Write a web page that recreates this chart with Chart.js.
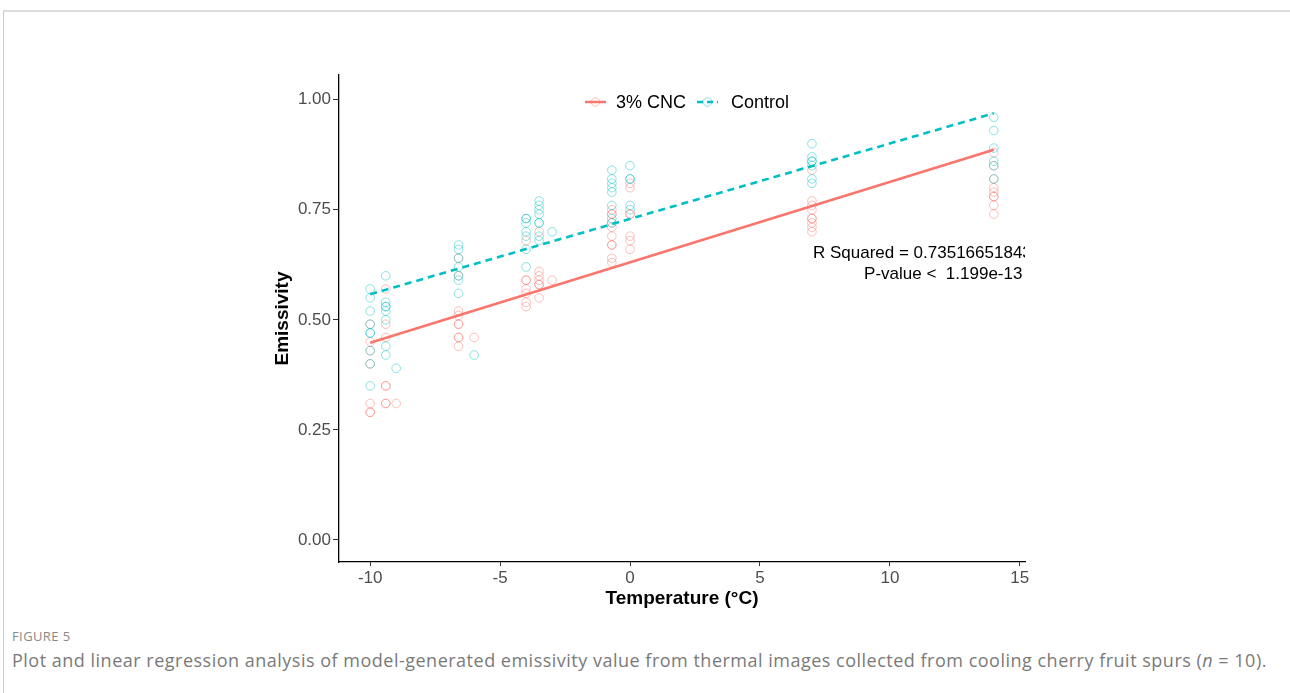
<!DOCTYPE html>
<html>
<head>
<meta charset="utf-8">
<script src="https://cdn.jsdelivr.net/npm/chart.js@4.4.1/dist/chart.umd.min.js"></script>
<style>
  body { margin: 0; background: #fff; width: 1290px; height: 693px; overflow: hidden; position: relative; }
  .frame { position: absolute; left: 3px; top: 10px; width: 1287px; height: 683px; border-top: 2px solid #ddd; border-left: 1px solid #ccc; }
  #wrap { position: absolute; left: 0; top: 0; width: 1290px; height: 620px; }
  .fig { position: absolute; left: 12px; top: 627px; font-family: "Open Sans", sans-serif; font-size: 13px; color: #888; letter-spacing: 0.4px; }
  .cap { position: absolute; left: 12px; top: 648px; font-family: "Open Sans", sans-serif; font-size: 18px; letter-spacing: 0.5px; color: #7a7a7a; white-space: nowrap; }
</style>
</head>
<body>
<div class="frame"></div>
<div id="wrap"><canvas id="myChart" width="1290" height="620"></canvas></div>
<div class="fig">FIGURE 5</div>
<div class="cap">Plot and linear regression analysis of model-generated emissivity value from thermal images collected from cooling cherry fruit spurs (<i>n</i> = 10).</div>
<script>
const temps = [-10, -9.4, -9.0, -6.6, -6.0, -4.0, -3.5, -3.0, -0.7, 0, 7, 14];
const cncValues = [
    [0.49, 0.45, 0.43, 0.40, 0.31, 0.29, 0.29],
    [0.57, 0.49, 0.46, 0.35, 0.35, 0.31, 0.31],
    [0.31],
    [0.64, 0.60, 0.52, 0.51, 0.49, 0.49, 0.46, 0.46, 0.44],
    [0.46],
    [0.68, 0.59, 0.59, 0.57, 0.56, 0.54, 0.53],
    [0.70, 0.61, 0.60, 0.59, 0.58, 0.58, 0.55],
    [0.59],
    [0.75, 0.74, 0.74, 0.72, 0.71, 0.69, 0.67, 0.67, 0.64, 0.63],
    [0.81, 0.80, 0.74, 0.74, 0.69, 0.68, 0.66],
    [0.84, 0.77, 0.76, 0.75, 0.73, 0.73, 0.72, 0.71, 0.70],
    [0.88, 0.85, 0.82, 0.80, 0.79, 0.78, 0.78, 0.76, 0.74]
];
const controlValues = [
    [0.57, 0.55, 0.52, 0.49, 0.47, 0.47, 0.43, 0.40, 0.35],
    [0.60, 0.54, 0.53, 0.53, 0.52, 0.50, 0.44, 0.42],
    [0.39],
    [0.67, 0.66, 0.64, 0.62, 0.60, 0.59, 0.56],
    [0.42],
    [0.73, 0.73, 0.72, 0.70, 0.69, 0.66, 0.62],
    [0.77, 0.76, 0.75, 0.74, 0.72, 0.72, 0.69, 0.68],
    [0.70],
    [0.84, 0.82, 0.81, 0.80, 0.79, 0.76, 0.73, 0.72],
    [0.85, 0.82, 0.82, 0.76, 0.75],
    [0.90, 0.87, 0.86, 0.86, 0.85, 0.82, 0.81],
    [0.96, 0.93, 0.89, 0.86, 0.85, 0.82]
];
// fitted line end points
const fitX = [-10, 14];
const cncFit = [0.448, 0.886];
const controlFit = [0.558, 0.969];

const xTicks = [-10, -5, 0, 5, 10, 15];
const yTicks = [0, 0.25, 0.5, 0.75, 1.0];
const seriesNames = ['3% CNC', 'Control'];
const annText = ['R Squared = 0.73516651843', 'P-value <  1.199e-13'];
const annX = [7.04, 15.1];   // left edge of line 1, right edge of line 2
const annY = [0.651, 0.603];

const red = '#F8766D';
const cyan = '#00BFC4';
const redPale = 'rgba(248, 118, 109, 0.45)';
const cyanPale = 'rgba(0, 191, 196, 0.45)';

function toPoints(values) {
    const pts = [];
    values.forEach((group, i) => group.forEach(v => pts.push({x: temps[i], y: v})));
    return pts;
}

const overlay = {
    id: 'overlay',
    afterDraw(chart) {
        const ctx = chart.ctx;
        const xs = chart.scales.x, ys = chart.scales.y;
        const area = chart.chartArea;
        ctx.save();
        // legend
        ctx.font = '18px "Liberation Sans", Arial, sans-serif';
        ctx.textBaseline = 'middle';
        ctx.fillStyle = '#000';
        const ly = 102;
        const keys = [
            {x: 585, color: red, pale: redPale, dash: [], textX: 616},
            {x: 697, color: cyan, pale: cyanPale, dash: [6, 4], textX: 731}
        ];
        keys.forEach((k, i) => {
            ctx.setLineDash(k.dash);
            ctx.strokeStyle = k.color;
            ctx.lineWidth = 2.5;
            ctx.beginPath();
            ctx.moveTo(k.x, ly);
            ctx.lineTo(k.x + 21, ly);
            ctx.stroke();
            ctx.setLineDash([]);
            ctx.strokeStyle = k.pale;
            ctx.lineWidth = 1;
            ctx.beginPath();
            ctx.arc(k.x + 10.5, ly, 4.3, 0, Math.PI * 2);
            ctx.stroke();
            ctx.fillText(seriesNames[i], k.textX, ly + 1);
        });
        // annotation, clipped at the panel edge
        ctx.beginPath();
        ctx.rect(area.left, area.top, area.right - area.left, area.bottom - area.top);
        ctx.clip();
        ctx.font = '17px "Liberation Sans", Arial, sans-serif';
        annText.forEach((t, i) => {
            ctx.textAlign = i === 0 ? 'left' : 'right';
            ctx.fillText(t, xs.getPixelForValue(annX[i]), ys.getPixelForValue(annY[i]));
        });
        ctx.restore();
    }
};

const ctx = document.getElementById('myChart').getContext('2d');

const myChart = new Chart(ctx, {
    type: 'scatter',
    data: {
        datasets: [{
            label: seriesNames[1] + ' fit',
            data: fitX.map((x, i) => ({x: x, y: controlFit[i]})),
            showLine: true,
            borderColor: cyan,
            borderWidth: 2.6,
            borderDash: [7, 5],
            pointRadius: 0
        }, {
            label: seriesNames[0] + ' fit',
            data: fitX.map((x, i) => ({x: x, y: cncFit[i]})),
            showLine: true,
            borderColor: red,
            borderWidth: 2.6,
            pointRadius: 0
        }, {
            label: seriesNames[1],
            data: toPoints(controlValues),
            borderColor: cyanPale,
            backgroundColor: 'rgba(0,0,0,0)',
            borderWidth: 1,
            pointRadius: 4.3
        }, {
            label: seriesNames[0],
            data: toPoints(cncValues),
            borderColor: redPale,
            backgroundColor: 'rgba(0,0,0,0)',
            borderWidth: 1,
            pointRadius: 4.3
        }]
    },
    options: {
        responsive: false,
        maintainAspectRatio: false,
        animation: false,
        layout: {
            padding: {left: 271, top: 75, right: 265, bottom: 0}
        },
        scales: {
            x: {
                type: 'linear',
                min: -11.2,
                max: 15.2,
                afterFit: s => { s.height = 58; },
                afterBuildTicks: s => { s.ticks = xTicks.map(v => ({value: v})); },
                grid: {drawOnChartArea: false, drawTicks: true, tickLength: 4, color: '#333', lineWidth: 1},
                border: {display: true, color: '#000', width: 1.3},
                ticks: {
                    color: '#4d4d4d',
                    padding: 2,
                    font: {family: '"Liberation Sans", Arial, sans-serif', size: 17},
                    callback: v => String(v)
                },
                title: {
                    display: true,
                    text: 'Temperature (°C)',
                    color: '#000',
                    font: {family: '"Liberation Sans", Arial, sans-serif', size: 19, weight: 'bold'},
                    padding: {top: 0, bottom: 10}
                }
            },
            y: {
                type: 'linear',
                min: -0.05,
                max: 1.056,
                afterFit: s => { s.width = 68; },
                afterBuildTicks: s => { s.ticks = yTicks.map(v => ({value: v})); },
                grid: {drawOnChartArea: false, drawTicks: true, tickLength: 6, color: '#333', lineWidth: 1},
                border: {display: true, color: '#000', width: 1.3},
                ticks: {
                    color: '#4d4d4d',
                    padding: 2,
                    font: {family: '"Liberation Sans", Arial, sans-serif', size: 17},
                    callback: v => Number(v).toFixed(2)
                },
                title: {
                    display: true,
                    text: 'Emissivity',
                    color: '#000',
                    font: {family: '"Liberation Sans", Arial, sans-serif', size: 19, weight: 'bold'},
                    padding: {top: 0, bottom: 0}
                }
            }
        },
        plugins: {
            legend: {display: false},
            tooltip: {enabled: false}
        }
    },
    plugins: [overlay]
});
</script>
</body>
</html>
